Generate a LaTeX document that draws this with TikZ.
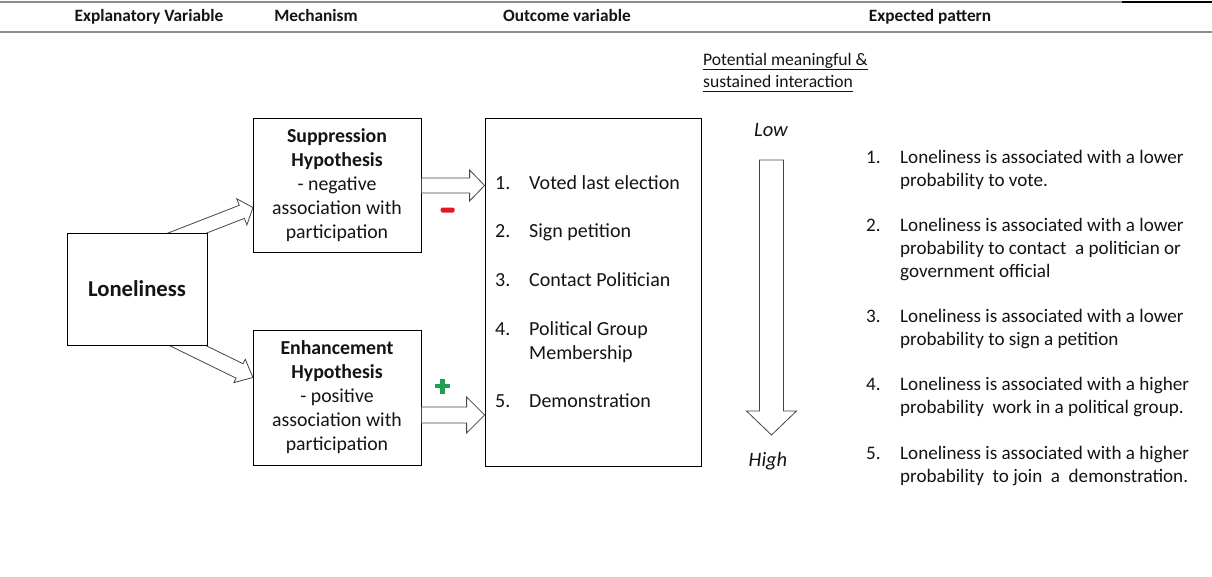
\documentclass[tikz,border=0pt]{standalone}
\usepackage{fontspec}
\setmainfont{Carlito}
\usetikzlibrary{calc}
\definecolor{minusred}{RGB}{225,25,35}
\definecolor{plusgreen}{RGB}{30,160,80}
\definecolor{arrgray}{RGB}{70,70,70}
\definecolor{rulegray}{RGB}{140,140,140}
\definecolor{txt}{RGB}{20,20,20}
\newcommand\myul[1]{\underline{#1\vphantom{g}}}
% #1 start, #2 tip, #3 shaft half width, #4 head half width, #5 head length
\newcommand\blockarr[5]{%
  \coordinate (bh) at ($(#2)!#5pt!(#1)$);
  \draw[arrline] ($(#1)!#3pt!90:(#2)$) -- ($(bh)!#3pt!90:(#2)$) -- ($(bh)!#4pt!90:(#2)$) -- (#2)
    -- ($(bh)!#4pt!-90:(#2)$) -- ($(bh)!#3pt!-90:(#2)$) -- ($(#1)!#3pt!-90:(#2)$) -- cycle;
}
\begin{document}
\begin{tikzpicture}[x=1pt,y=-1pt,
  box/.style={draw=black, line width=0.8pt, fill=white, inner sep=0pt, align=center, text=txt},
  arrline/.style={draw=arrgray, line width=0.8pt, fill=white, line join=miter},
  hdr/.style={anchor=base, text=txt, font=\bfseries\fontsize{17.3}{20}\selectfont},
  itm/.style={anchor=base west, inner sep=0pt, text=txt, font=\fontsize{20}{24}\selectfont},
  pat/.style={anchor=base west, inner sep=0pt, text=txt, font=\fontsize{19.1}{23}\selectfont},
  boxtext/.style={font=\fontsize{19.8}{24}\selectfont},
  rulel/.style={draw=rulegray, line width=1.6pt}]
\useasboundingbox (0,0) rectangle (1212,576);
\fill[white] (0,0) rectangle (1212,576);

% header rules
\coordinate (r1a) at (0,2); \coordinate (r1b) at (1122,2); \coordinate (r1c) at (1212,2);
\coordinate (r2a) at (0,32); \coordinate (r2b) at (1212,32);
\draw[rulel] (r1a) -- (r1b);
\draw[black, line width=1.2pt] (r1b) -- (r1c);
\draw[rulel, line width=2.2pt] (r2a) -- (r2b);

% headers
\node[hdr] (h1) at (149,21) {Explanatory Variable};
\node[hdr] (h2) at (316,21) {Mechanism};
\node[hdr] (h3) at (567,21) {Outcome variable};
\node[hdr] (h4) at (930,21) {Expected pattern};

% diagonal arrows (tails hidden under the Loneliness box)
\coordinate (d1s) at (168.9,240.2); \coordinate (d1t) at (253,207.5);
\coordinate (d2s) at (168.5,336.2); \coordinate (d2t) at (253,377.5);
\blockarr{d1s}{d1t}{7}{14}{12}
\blockarr{d2s}{d2t}{8}{13}{15}

% boxes
\node[box, minimum width=140, minimum height=112, font=\bfseries\fontsize{22.7}{26}\selectfont] (lone) at (137,289) {Loneliness};
\node[box, boxtext, minimum width=168, minimum height=134] (sup) at (337,185)
  {\textbf{Suppression}\\\textbf{Hypothesis}\\- negative\\association with\\participation};
\node[box, boxtext, minimum width=168, minimum height=135] (enh) at (337,397.5)
  {\textbf{Enhancement}\\\textbf{Hypothesis}\\- positive\\association with\\participation};
\node[box, minimum width=216, minimum height=348] (out) at (593,292) {};

% horizontal arrows
\coordinate (a1s) at ($(sup.east)+(0,0.5)$);
\coordinate (a1t) at (out.west |- a1s);
\coordinate (a2s) at ($(enh.east)+(0,17.5)$);
\coordinate (a2t) at (out.west |- a2s);
\blockarr{a1s}{a1t}{7.5}{15.5}{15}
\blockarr{a2s}{a2t}{8}{18}{18}

% signs
\node[fill=minusred, minimum width=14, minimum height=5, inner sep=0pt, rounded corners=1.5pt] (minus) at (447.5,210) {};
\coordinate (pc) at (442.5,386);
\draw[plusgreen, line width=4.5pt] ($(pc)+(-7.5,0)$) -- ($(pc)+(7.5,0)$) ($(pc)+(0,-7.5)$) -- ($(pc)+(0,7.5)$);

% outcome items
\node[itm] (o1n) at (495,189) {1.};
\node[itm] (o1) at (529,189) {Voted last election};
\node[itm] (o2n) at (495,237) {2.};
\node[itm] (o2) at (529,237) {Sign petition};
\node[itm] (o3n) at (495,286) {3.};
\node[itm] (o3) at (529,286) {Contact Politician};
\node[itm] (o4n) at (495,335) {4.};
\node[itm] (o4a) at (529,335) {Political Group};
\node[itm] (o4b) at (529,359) {Membership};
\node[itm] (o5n) at (495,407) {5.};
\node[itm] (o5) at (529,407) {Demonstration};

% interaction scale
\node[anchor=base west, inner sep=0pt, text=txt, font=\fontsize{17.6}{21}\selectfont] (p1) at (703,65) {\myul{Potential meaningful \&}};
\node[anchor=base west, inner sep=0pt, text=txt, font=\fontsize{17.6}{21}\selectfont] (p2) at (703,87) {\myul{sustained interaction}};
\node[anchor=base, inner sep=0pt, text=txt, font=\itshape\fontsize{20.5}{24}\selectfont] (low) at (771,136) {Low};
\node[anchor=base, inner sep=0pt, text=txt, font=\itshape\fontsize{20.5}{24}\selectfont] (high) at (768,466) {High};
\coordinate (vs) at (771.5,160); \coordinate (vt) at (771.5,435);
\blockarr{vs}{vt}{12}{25}{24}

% expected pattern
\node[pat] (e1n) at (866,163) {1.};
\node[pat] (e1a) at (900,163) {Loneliness is associated with a lower};
\node[pat] (e1b) at (900,186) {probability to vote.};
\node[pat] (e2n) at (866,231) {2.};
\node[pat] (e2a) at (900,231) {Loneliness is associated with a lower};
\node[pat] (e2b) at (900,254) {probability to contact\ \ a politician or};
\node[pat] (e2c) at (900,277) {government official};
\node[pat] (e3n) at (866,322) {3.};
\node[pat] (e3a) at (900,322) {Loneliness is associated with a lower};
\node[pat] (e3b) at (900,345) {probability to sign a petition};
\node[pat] (e4n) at (866,390) {4.};
\node[pat] (e4a) at (900,390) {Loneliness is associated with a higher};
\node[pat] (e4b) at (900,413) {probability\ \ work in a political group.};
\node[pat] (e5n) at (866,459) {5.};
\node[pat] (e5a) at (900,459) {Loneliness is associated with a higher};
\node[pat] (e5b) at (900,482) {probability\ \ to join\ \ a\ \ demonstration.};
\end{tikzpicture}
\end{document}
